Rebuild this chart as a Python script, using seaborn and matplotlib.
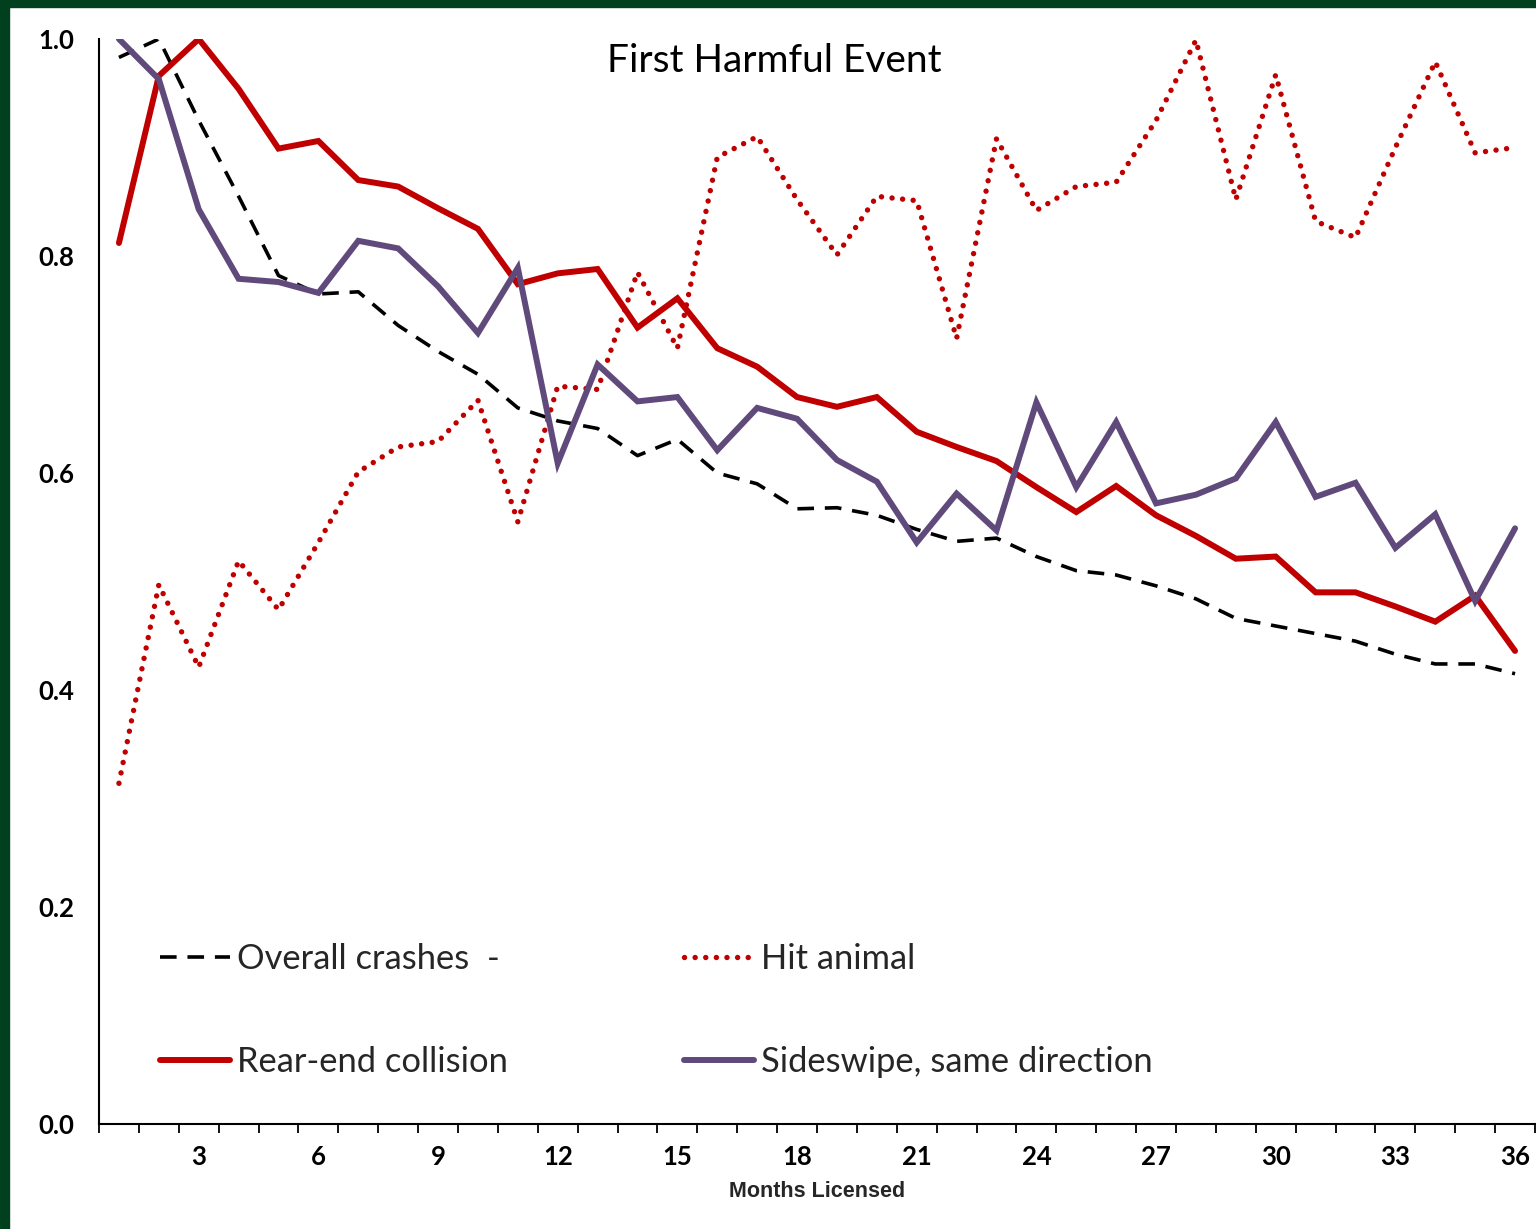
import matplotlib
matplotlib.use("Agg")
import matplotlib.pyplot as plt
from matplotlib.patches import Rectangle
from matplotlib.ticker import FixedLocator
import pandas as pd
import seaborn as sns

W, H = 1536, 1229

months = list(range(1, 37))
overall = [0.983, 1.000, 0.925, 0.855, 0.782, 0.765, 0.767, 0.736, 0.712, 0.691,
           0.660, 0.648, 0.641, 0.616, 0.631, 0.600, 0.590, 0.567, 0.568, 0.561,
           0.548, 0.537, 0.540, 0.523, 0.510, 0.506, 0.496, 0.484, 0.466, 0.459,
           0.452, 0.445, 0.433, 0.424, 0.424, 0.415]
hit_animal = [0.314, 0.497, 0.421, 0.519, 0.474, 0.536, 0.601, 0.624, 0.629, 0.667,
              0.555, 0.680, 0.677, 0.785, 0.715, 0.891, 0.910, 0.852, 0.801, 0.855,
              0.851, 0.724, 0.908, 0.842, 0.864, 0.868, 0.925, 0.999, 0.852, 0.967,
              0.832, 0.817, 0.900, 0.979, 0.895, 0.900]
rear_end = [0.812, 0.966, 1.000, 0.954, 0.899, 0.906, 0.870, 0.864, 0.844, 0.825,
            0.774, 0.784, 0.788, 0.734, 0.761, 0.715, 0.698, 0.670, 0.661, 0.670,
            0.638, 0.624, 0.611, 0.587, 0.564, 0.588, 0.561, 0.542, 0.521, 0.523,
            0.490, 0.490, 0.477, 0.463, 0.487, 0.436]
sideswipe = [1.000, 0.963, 0.843, 0.779, 0.776, 0.766, 0.814, 0.807, 0.772, 0.729,
             0.789, 0.609, 0.700, 0.666, 0.670, 0.621, 0.660, 0.650, 0.612, 0.592,
             0.536, 0.581, 0.547, 0.665, 0.587, 0.647, 0.572, 0.580, 0.595, 0.647,
             0.578, 0.591, 0.531, 0.562, 0.482, 0.549]

labels = ["Overall crashes  -", "Hit animal", "Rear-end collision", "Sideswipe, same direction"]
y_ticks = [0.0, 0.2, 0.4, 0.6, 0.8, 1.0]
x_labels = list(range(3, 37, 3))

RED = "#C00000"
PURPLE = "#604A7B"
GREEN = "#00401E"

sns.set_theme(style="white")
plt.rcParams["font.family"] = ["Lato", "DejaVu Sans"]

fig = plt.figure(figsize=(W / 100, H / 100), dpi=100)
fig.patch.set_facecolor("white")
ax = fig.add_axes([99 / W, 105 / H, 1436 / W, 1085 / H])

df = pd.DataFrame({"month": months, "overall": overall, "hit": hit_animal,
                   "rear": rear_end, "side": sideswipe})

sns.lineplot(data=df, x="month", y="overall", ax=ax, color="black", linewidth=2.6,
             linestyle=(0, (4.6, 3.0)), dash_capstyle="butt")
sns.lineplot(data=df, x="month", y="hit", ax=ax, color=RED, linewidth=3.9,
             linestyle=(0, (0.01, 1.95)), dash_capstyle="round")
sns.lineplot(data=df, x="month", y="rear", ax=ax, color=RED, linewidth=4.3,
             solid_joinstyle="miter")
sns.lineplot(data=df, x="month", y="side", ax=ax, color=PURPLE, linewidth=4.3,
             solid_joinstyle="miter")

ax.set_xlim(0.5, 36.5)
ax.set_ylim(0, 1.0)
for s in ["top", "right"]:
    ax.spines[s].set_visible(False)
for s in ["left", "bottom"]:
    ax.spines[s].set_color("black")
    ax.spines[s].set_linewidth(1.5)

ax.set_yticks(y_ticks)
ax.set_yticklabels([f"{v:.1f}" for v in y_ticks])
ax.xaxis.set_major_locator(FixedLocator(x_labels))
ax.set_xticklabels([str(v) for v in x_labels])
ax.xaxis.set_minor_locator(FixedLocator([m - 0.5 for m in months] + [36.5]))
ax.tick_params(axis="y", which="major", direction="out", length=6.5, width=1.3,
               color="black", pad=11, labelsize=18.5, labelcolor="black")
ax.tick_params(axis="x", which="major", length=0, pad=15, labelsize=18.5,
               labelcolor="black")
ax.tick_params(axis="x", which="minor", direction="out", length=6.5, width=1.3,
               color="black", bottom=True)
for t in ax.get_xticklabels() + ax.get_yticklabels():
    t.set_fontweight("bold")
ax.grid(False)

ax.set_ylabel("")
ax.set_xlabel("Months Licensed", fontsize=15.5, fontweight="bold",
              family=["Liberation Sans", "DejaVu Sans"], labelpad=9)

fig.text(774 / W, 1 - 61 / H, "First Harmful Event", ha="center", va="center",
         fontsize=28, color="black")

lines = ax.get_lines()
order = [0, 2, 1, 3]
ax.legend([lines[i] for i in order], [labels[i] for i in order], ncol=2,
          loc="upper left", bbox_to_anchor=(160 / W, 1 - 943 / H),
          bbox_transform=fig.transFigure, frameon=False, fontsize=24.8,
          handlelength=2.04, handletextpad=0.2, columnspacing=5.1,
          labelspacing=2.05, borderpad=0, borderaxespad=0)

fig.patches.append(Rectangle((0, 0), 9 / W, 1, transform=fig.transFigure,
                             color=GREEN, zorder=10))
fig.patches.append(Rectangle((0, 1 - 7 / H), 1, 7 / H, transform=fig.transFigure,
                             color=GREEN, zorder=10))

fig.savefig("out.png", dpi=100, facecolor="white")
